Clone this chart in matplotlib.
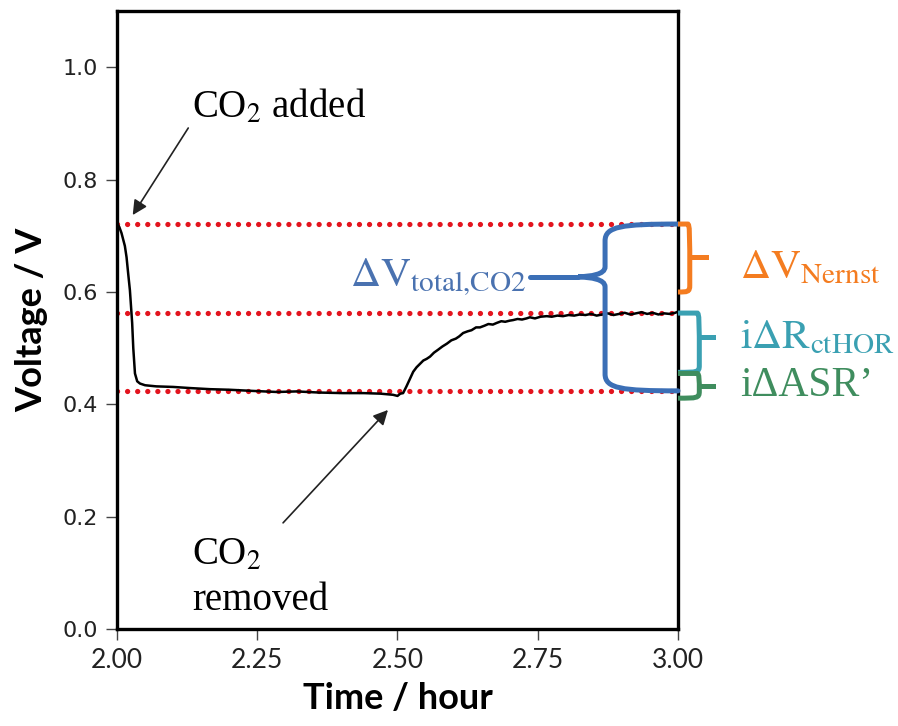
import numpy as np
import matplotlib.pyplot as plt
from matplotlib.path import Path
from matplotlib.patches import PathPatch

plt.rcParams['mathtext.fontset'] = 'stix'

# Voltage trace
time_h = [2.000, 2.004, 2.008, 2.014, 2.017, 2.020, 2.023, 2.027, 2.029, 2.032,
          2.036, 2.041, 2.050, 2.070, 2.100, 2.130, 2.166, 2.200, 2.240, 2.285,
          2.320, 2.360, 2.403, 2.440, 2.470, 2.492, 2.500, 2.505, 2.510, 2.516,
          2.522, 2.528, 2.534, 2.540, 2.546, 2.552, 2.558, 2.565, 2.572, 2.580,
          2.588, 2.596, 2.604, 2.610, 2.617, 2.625, 2.632, 2.640, 2.647, 2.655,
          2.662, 2.670, 2.677, 2.685, 2.692, 2.700, 2.706, 2.714, 2.722, 2.730,
          2.736, 2.745, 2.755, 2.766, 2.775, 2.785, 2.795, 2.805, 2.815, 2.825,
          2.835, 2.845, 2.855, 2.865, 2.875, 2.885, 2.895, 2.905, 2.915, 2.925,
          2.935, 2.945, 2.955, 2.965, 2.975, 2.985, 2.995, 3.000]
voltage = [0.722, 0.716, 0.705, 0.682, 0.662, 0.632, 0.603, 0.545, 0.500, 0.455,
           0.441, 0.437, 0.434, 0.432, 0.431, 0.429, 0.427, 0.426, 0.424, 0.422,
           0.423, 0.421, 0.420, 0.420, 0.419, 0.417, 0.415, 0.419, 0.420, 0.432,
           0.445, 0.458, 0.466, 0.472, 0.478, 0.481, 0.485, 0.492, 0.497, 0.503,
           0.508, 0.514, 0.517, 0.521, 0.527, 0.530, 0.532, 0.537, 0.537, 0.540,
           0.543, 0.542, 0.545, 0.548, 0.547, 0.549, 0.550, 0.552, 0.551, 0.553,
           0.555, 0.553, 0.556, 0.557, 0.556, 0.558, 0.557, 0.559, 0.558, 0.560,
           0.559, 0.561, 0.558, 0.560, 0.562, 0.559, 0.561, 0.563, 0.560, 0.562,
           0.564, 0.561, 0.563, 0.560, 0.562, 0.561, 0.563, 0.565]

# reference levels (red dotted lines)
levels = [0.721, 0.5625, 0.424]
x_ticks = [2.00, 2.25, 2.50, 2.75, 3.00]
x_ticklabels = ['2.00', '2.25', '2.50', '2.75', '3.00']
y_ticks = [0.0, 0.2, 0.4, 0.6, 0.8, 1.0]
y_ticklabels = ['0.0', '0.2', '0.4', '0.6', '0.8', '1.0']

blue = '#3b6fb6'
orange = '#f47c20'
teal = '#3aa0b2'
green = '#3f8d5e'

fig = plt.figure(figsize=(8.98, 7.26), dpi=100)
ax = fig.add_axes([0.1303, 0.1336, 0.6247, 0.851])

for lv in levels:
    ax.plot([2.0, 3.0], [lv, lv], color='#e3141e', lw=3.8,
            linestyle=(0, (0.01, 1.9)), dash_capstyle='round', zorder=2)

ax.plot(time_h, voltage, color='black', lw=1.8, zorder=3)

ax.set_xlim(2.0, 3.0)
ax.set_ylim(0.0, 1.1)
ax.set_xticks(x_ticks)
ax.set_xticklabels(x_ticklabels, family='Lato', fontsize=19, color='#222222')
ax.set_yticks(y_ticks)
ax.set_yticklabels(y_ticklabels, family='DejaVu Sans', fontsize=16, color='#222222')
ax.tick_params(direction='out', length=8, width=1, color='#444444', pad=6)
for s in ax.spines.values():
    s.set_linewidth(2.4)

ax.set_xlabel('Time / hour', family='Lato', fontsize=26, fontweight='bold',
              labelpad=6)
ax.set_ylabel('Voltage / V', family='Lato', fontsize=26, fontweight='bold',
              labelpad=10)

# annotations
serif = 'Liberation Serif'
ax.text(2.134, 0.91, r'CO$_2$ added', family=serif, fontsize=28, va='baseline')
ax.annotate('', xy=(2.028, 0.737), xytext=(2.127, 0.892),
            arrowprops=dict(arrowstyle='-|>', color='#222222', lw=1.2,
                            mutation_scale=22, shrinkA=0, shrinkB=0))
ax.text(2.134, 0.114, r'CO$_2$', family=serif, fontsize=28, va='baseline')
ax.text(2.134, 0.034, 'removed', family=serif, fontsize=28, va='baseline')
ax.annotate('', xy=(2.483, 0.39), xytext=(2.296, 0.189),
            arrowprops=dict(arrowstyle='-|>', color='#222222', lw=1.2,
                            mutation_scale=22, shrinkA=0, shrinkB=0))

# big blue brace
top, bot = levels[0], levels[2]
xv, xtip, tip_y = 2.87, 2.822, 0.627
C, L, M = Path.CURVE4, Path.LINETO, Path.MOVETO
verts = [(3.0, top), (2.90, top), (xv, top - 0.004), (xv, top - 0.03),
         (xv, tip_y + 0.018),
         (xv, tip_y + 0.004), (2.845, tip_y + 0.001), (xtip, tip_y),
         (2.845, tip_y - 0.001), (xv, tip_y - 0.004), (xv, tip_y - 0.018),
         (xv, bot + 0.03),
         (xv, bot + 0.004), (2.90, bot), (3.0, bot)]
codes = [M, C, C, C, L, C, C, C, C, C, C, L, C, C, C]
ax.add_patch(PathPatch(Path(verts, codes), fill=False, ec=blue, lw=3.6,
                       clip_on=False, zorder=4, capstyle='round'))
ax.plot([2.736, xtip], [tip_y, tip_y], color=blue, lw=3.6, clip_on=False,
        zorder=4, solid_capstyle='round')
ax.text(2.73, tip_y, r'$\Delta\mathrm{V}_{\mathrm{total{,}CO2}}$', color='#4a72b0',
        fontsize=30, ha='right', va='center')


def bracket(y0, y1, ymid, xr, xt, color):
    r = 0.012
    verts = [(3.0, y0), (xr - 0.004, y0), (xr, y0), (xr, y0 - r),
             (xr, y1 + r), (xr, y1), (xr - 0.004, y1), (3.0, y1)]
    codes = [M, L, C, C, L, C, C, C]
    ax.add_patch(PathPatch(Path(verts, codes), fill=False, ec=color, lw=3.6,
                           clip_on=False, zorder=4))
    ax.plot([xr, xt], [ymid, ymid], color=color, lw=3.6, clip_on=False, zorder=4)


bracket(top, 0.600, 0.662, 3.021, 3.05, orange)
bracket(0.5625, 0.457, 0.520, 3.038, 3.062, teal)
bracket(0.455, 0.411, 0.433, 3.038, 3.062, green)

ax.text(3.11, 0.645, r'$\Delta\mathrm{V}_{\mathrm{Nernst}}$', color=orange,
        fontsize=30, va='center', clip_on=False)
ax.text(3.11, 0.522, r'$\mathrm{i\Delta R}_{\mathrm{ctHOR}}$', color=teal,
        fontsize=30, va='center', clip_on=False)
ax.text(3.11, 0.433, 'i\u0394ASR\u2019', color=green, family=serif,
        fontsize=30, va='center', clip_on=False)

fig.savefig('out.png', dpi=100)
